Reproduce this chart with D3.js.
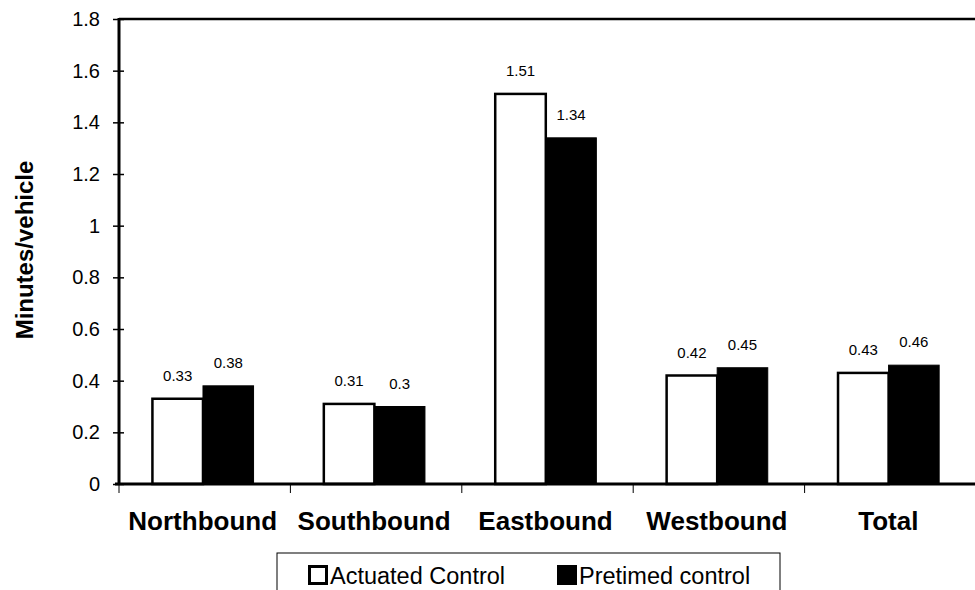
<!DOCTYPE html>
<html>
<head>
<meta charset="utf-8">
<script src="https://cdn.jsdelivr.net/npm/d3@7"></script>
<style>
  html, body { margin: 0; padding: 0; background: #fff; }
  svg { display: block; font-family: "Liberation Sans", Arial, sans-serif; }
</style>
</head>
<body>
<svg id="chart" width="975" height="590"></svg>
<script>
const categories = ["Northbound", "Southbound", "Eastbound", "Westbound", "Total"];
const seriesNames = ["Actuated Control", "Pretimed control"];
const actuated = [0.33, 0.31, 1.51, 0.42, 0.43];
const pretimed = [0.38, 0.30, 1.34, 0.45, 0.46];
const actuatedLabels = ["0.33", "0.31", "1.51", "0.42", "0.43"];
const pretimedLabels = ["0.38", "0.3", "1.34", "0.45", "0.46"];
const yTicks = [0, 0.2, 0.4, 0.6, 0.8, 1.0, 1.2, 1.4, 1.6, 1.8];
const yTickLabels = ["0", "0.2", "0.4", "0.6", "0.8", "1", "1.2", "1.4", "1.6", "1.8"];
const yTitle = "Minutes/vehicle";

(function () {
const svg = d3.select("#chart");
const pLeft = 119, pRight = 976, pTop = 19, pBottom = 484;

const x = d3.scaleBand().domain(categories).range([pLeft, pRight]).paddingInner(0).paddingOuter(0);
const x1 = d3.scaleBand().domain(seriesNames).range([x.bandwidth() * 0.195, x.bandwidth() * 0.785]).padding(0);
const y = d3.scaleLinear().domain([0, 1.8]).range([pBottom, pTop]);

const fills = { "Actuated Control": "#fff", "Pretimed control": "#000" };
const values = { "Actuated Control": actuated, "Pretimed control": pretimed };
const labels = { "Actuated Control": actuatedLabels, "Pretimed control": pretimedLabels };

const rows = [];
categories.forEach((c, i) => seriesNames.forEach(s => rows.push({ c, s, v: values[s][i], l: labels[s][i] })));

svg.append("g").selectAll("rect").data(rows).join("rect")
  .attr("x", d => x(d.c) + x1(d.s))
  .attr("y", d => y(d.v))
  .attr("width", x1.bandwidth())
  .attr("height", d => y(0) - y(d.v))
  .attr("fill", d => fills[d.s])
  .attr("stroke", "#000")
  .attr("stroke-width", d => d.s === "Actuated Control" ? 2.5 : 1);

svg.append("g").selectAll("text").data(rows).join("text")
  .attr("x", d => x(d.c) + x1(d.s) + x1.bandwidth() / 2)
  .attr("y", d => y(d.v) - 18)
  .attr("text-anchor", "middle")
  .attr("font-size", 15)
  .attr("fill", "#000")
  .text(d => d.l);

const yAxis = d3.axisLeft(y).tickValues(yTicks).tickFormat((d, i) => yTickLabels[i]).tickSize(6).tickPadding(13);
const gy = svg.append("g").attr("transform", `translate(${pLeft},0)`).call(yAxis);
gy.select(".domain").remove();
gy.selectAll(".tick line").attr("x2", -6).attr("x1", 5).attr("stroke", "#000").attr("stroke-width", 1.5);
gy.selectAll(".tick text").attr("font-size", 20).attr("fill", "#000").attr("font-family", "Liberation Sans, Arial, sans-serif");

svg.append("line").attr("x1", pLeft).attr("x2", pLeft).attr("y1", pTop - 1).attr("y2", pBottom + 1)
  .attr("stroke", "#000").attr("stroke-width", 3);
svg.append("line").attr("x1", pLeft).attr("x2", 975).attr("y1", pTop).attr("y2", pTop)
  .attr("stroke", "#000").attr("stroke-width", 2.5);

svg.append("line").attr("x1", pLeft - 4).attr("x2", 975).attr("y1", pBottom).attr("y2", pBottom)
  .attr("stroke", "#000").attr("stroke-width", 3);
const bounds = categories.map(c => x(c)).concat([pRight]);
svg.append("g").selectAll("line").data(bounds).join("line")
  .attr("x1", d => d).attr("x2", d => d)
  .attr("y1", pBottom).attr("y2", pBottom + 9)
  .attr("stroke", "#000").attr("stroke-width", 1);

svg.append("g").selectAll("text").data(categories).join("text")
  .attr("x", d => x(d) + x.bandwidth() / 2 - 2)
  .attr("y", 530)
  .attr("text-anchor", "middle")
  .attr("font-size", 26)
  .attr("font-weight", "bold")
  .attr("fill", "#000")
  .text(d => d);

svg.append("text")
  .attr("transform", `translate(33,250) rotate(-90)`)
  .attr("text-anchor", "middle")
  .attr("font-size", 24)
  .attr("font-weight", "bold")
  .attr("fill", "#000")
  .text(yTitle);

const lg = svg.append("g");
lg.append("rect").attr("x", 277).attr("y", 553).attr("width", 503).attr("height", 60)
  .attr("fill", "#fff").attr("stroke", "#000").attr("stroke-width", 1);
const legendX = [308, 557];
seriesNames.forEach((s, i) => {
  lg.append("rect").attr("x", legendX[i] + 1.5).attr("y", 566.5).attr("width", 17).attr("height", 17)
    .attr("fill", fills[s]).attr("stroke", "#000").attr("stroke-width", 3);
  lg.append("text").attr("x", legendX[i] + 22).attr("y", 584)
    .attr("font-size", 23.5).attr("fill", "#000").text(s);
});
})();
</script>
</body>
</html>
